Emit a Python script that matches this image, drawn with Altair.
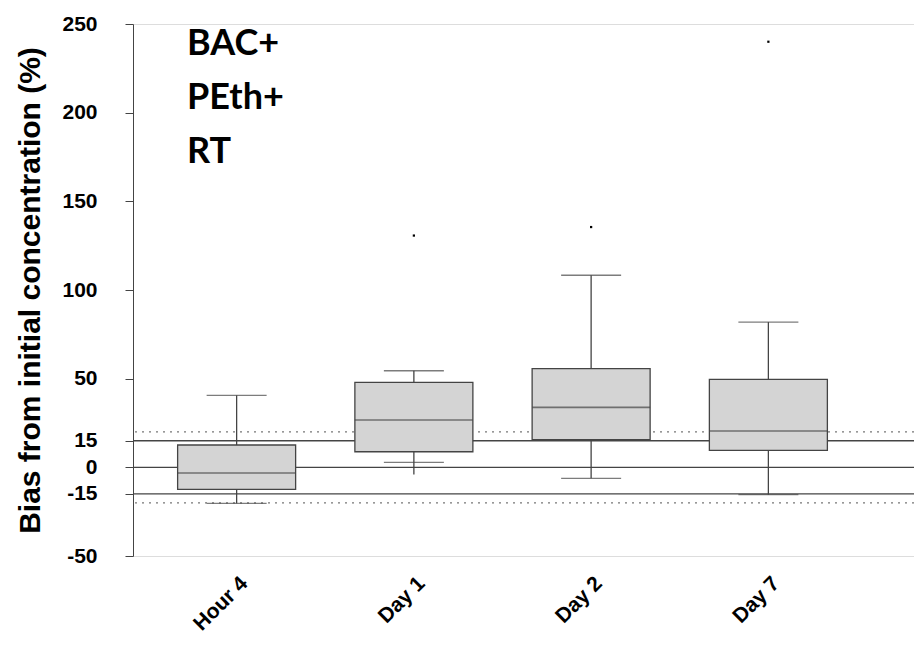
import altair as alt
import pandas as pd

# ---- data ----
cats = ["Hour 4", "Day 1", "Day 2", "Day 7"]
q1 = [-12.4, 8.8, 15.6, 9.6]
q3 = [12.6, 47.9, 55.7, 49.6]
med = [-3.2, 26.7, 33.8, 20.5]
whisk_hi = [40.6, 54.5, 108.3, 81.9]
whisk_lo = [-20.3, -4.0, -6.2, -15.4]
cap_hi = [40.6, 54.5, 108.3, 81.9]
cap_lo = [-20.3, 2.8, -6.2, -15.4]
out_cat = ["Day 1", "Day 2", "Day 7"]
out_val = [130.7, 135.5, 240.0]
solid_refs = [15, 0, -15]
dotted_refs = [20, -20]
y_ticks = [-50, -15, 0, 15, 50, 100, 150, 200, 250]
labels = ["BAC+", "PEth+", "RT"]

df = pd.DataFrame({"cat": cats, "q1": q1, "q3": q3, "med": med,
                   "whi": whisk_hi, "wlo": whisk_lo, "chi": cap_hi, "clo": cap_lo})
dout = pd.DataFrame({"cat": out_cat, "val": out_val})
dsolid = pd.DataFrame({"y": solid_refs})
ddot = pd.DataFrame({"y": dotted_refs})
dlab = pd.DataFrame({"t": ["\n".join(labels)]})

LINE = "#444444"
W, H = 781, 532

xscale = alt.Scale(domain=cats, range=[15, 724], paddingInner=0, paddingOuter=0)
yscale = alt.Scale(domain=[-50, 250], nice=False, zero=False)

xaxis = alt.Axis(title=None, domain=False, ticks=False, labelAngle=-45,
                 labelFont="Liberation Sans", labelFontWeight="bold",
                 labelFontSize=21, labelColor="black", labelPadding=24,
                 labelOffset=8, labelAlign="right", labelBaseline="middle")
yaxis = alt.Axis(title="Bias from initial concentration (%)", values=y_ticks,
                 labelExpr="datum.value + ''",
                 grid=False, domainColor=LINE, tickColor=LINE, tickSize=8,
                 labelFont="Liberation Sans", labelFontWeight="bold",
                 labelFontSize=21, labelColor="black", labelPadding=28,
                 titleFont="Liberation Sans", titleFontWeight="bold",
                 titleFontSize=30, titleColor="black", titlePadding=16)


def X():
    return alt.X("cat:N", scale=xscale, sort=cats, axis=xaxis)


def Y(f):
    return alt.Y(f, scale=yscale, axis=yaxis)


base = alt.Chart(df)

dotted = alt.Chart(ddot).mark_rule(color="#777777", strokeWidth=1.2,
                                   strokeDash=[2, 5]).encode(y=Y("y:Q"))
solid = alt.Chart(dsolid).mark_rule(color=LINE, strokeWidth=1.3).encode(y=Y("y:Q"))

whisk = base.mark_rule(color=LINE, strokeWidth=1.3).encode(
    x=X(), y=Y("wlo:Q"), y2="whi:Q")
box = base.mark_bar(size=118, fill="#d4d4d4", stroke=LINE, strokeWidth=1.3).encode(
    x=X(), y=Y("q1:Q"), y2="q3:Q")
medt = base.mark_tick(color=LINE, size=118, thickness=1.6).encode(x=X(), y=Y("med:Q"))
caph = base.mark_tick(color=LINE, size=60, thickness=1.4).encode(x=X(), y=Y("chi:Q"))
capl = base.mark_tick(color=LINE, size=60, thickness=1.4).encode(x=X(), y=Y("clo:Q"))
outl = alt.Chart(dout).mark_square(size=5, color="black", filled=True, opacity=1).encode(
    x=X(), y=Y("val:Q"))

txt = alt.Chart(dlab).mark_text(font="Lato", fontWeight="bold", fontSize=36,
                                align="left", baseline="alphabetic", color="black",
                                lineBreak="\n", lineHeight=54).encode(
    x=alt.value(54), y=alt.value(31), text="t:N")

chart = alt.layer(dotted, solid, whisk, box, medt, caph, capl, outl, txt).properties(
    width=W, height=H, padding={"left": 125, "top": 16, "right": 0, "bottom": 82},
    autosize=alt.AutoSizeParams(type="none")
).configure_view(stroke=None).configure(background="white")

chart.save("out.html", embed_options={"renderer": "svg", "actions": False})
